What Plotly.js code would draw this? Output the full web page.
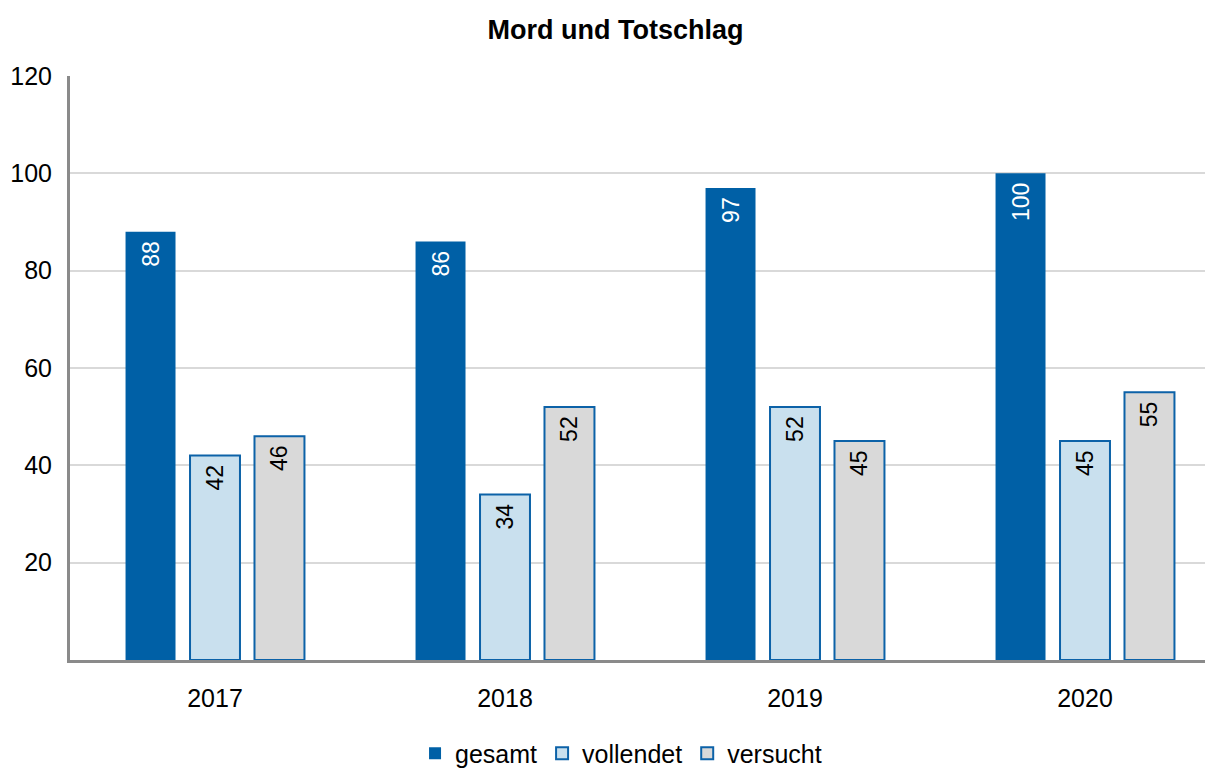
<!DOCTYPE html>
<html><head><meta charset="utf-8">
<script src="https://cdn.plot.ly/plotly-3.0.1.min.js"></script>
<style>html,body{margin:0;padding:0;background:#fff}#chart{width:1217px;height:771px}</style>
</head><body><div id="chart"></div>
<script>
const years = ["2017", "2018", "2019", "2020"];
const gesamt = [88, 86, 97, 100];
const vollendet = [42, 34, 52, 45];
const versucht = [46, 52, 45, 55];
const yTicks = [20, 40, 60, 80, 100, 120];

const font = "Liberation Sans, Arial, sans-serif";
function bar(name, vals, fill, line, lw, txtColor) {
  return {
    type: 'bar', name: name, x: years, y: vals,
    marker: {color: fill, line: {color: line, width: lw}},
    text: vals.map(v => String(v) + '\u00a0'), textposition: 'inside', insidetextanchor: 'end',
    textangle: -90, textfont: {family: font, size: 23, color: txtColor},
    constraintext: 'none', cliponaxis: false, hoverinfo: 'skip'
  };
}
const data = [
  bar('gesamt', gesamt, '#0060A6', '#0060A6', 0, '#ffffff'),
  bar('vollendet', vollendet, '#C9E0EE', '#0C62A8', 2, '#000000'),
  bar('versucht', versucht, '#D9D9D9', '#0C62A8', 2, '#000000')
];
const layout = {
  width: 1217, height: 771,
  margin: {l: 70, r: 12, t: 76, b: 111, autoexpand: false},
  paper_bgcolor: '#fff', plot_bgcolor: '#fff',
  font: {family: font, size: 25, color: '#000'},
  title: {text: '<b>Mord und Totschlag</b>', font: {family: font, size: 27, color: '#000'}, x: 0.5058, xanchor: 'center', y: 0.962, yanchor: 'middle', automargin: false},
  bargap: 0.333, bargroupgap: 0.225, barmode: 'group',
  xaxis: {type: 'category', range: [-0.5, -0.5 + 1135 / 290], showline: true, linecolor: '#8a8a8a', linewidth: 3,
    ticks: 'outside', ticklen: 14, tickcolor: 'rgba(0,0,0,0)', tickfont: {size: 25}, showgrid: false, zeroline: false, fixedrange: true, automargin: false},
  yaxis: {range: [0, 120], tickvals: yTicks, ticktext: yTicks.map(String), showline: true, linecolor: '#8a8a8a', linewidth: 3,
    showgrid: true, gridcolor: '#d9d9d9', gridwidth: 2, zeroline: false,
    ticks: 'outside', ticklen: 10, tickcolor: 'rgba(0,0,0,0)', tickfont: {size: 25}, fixedrange: true, automargin: false},
  showlegend: true,
  legend: {orientation: 'h', x: 0.4855, xanchor: 'center', y: -0.16, yanchor: 'middle', font: {size: 25},
    itemwidth: 30, tracegroupgap: 0, traceorder: 'normal'}
};
Plotly.newPlot('chart', data, layout, {displayModeBar: false, staticPlot: true});
</script></body></html>
